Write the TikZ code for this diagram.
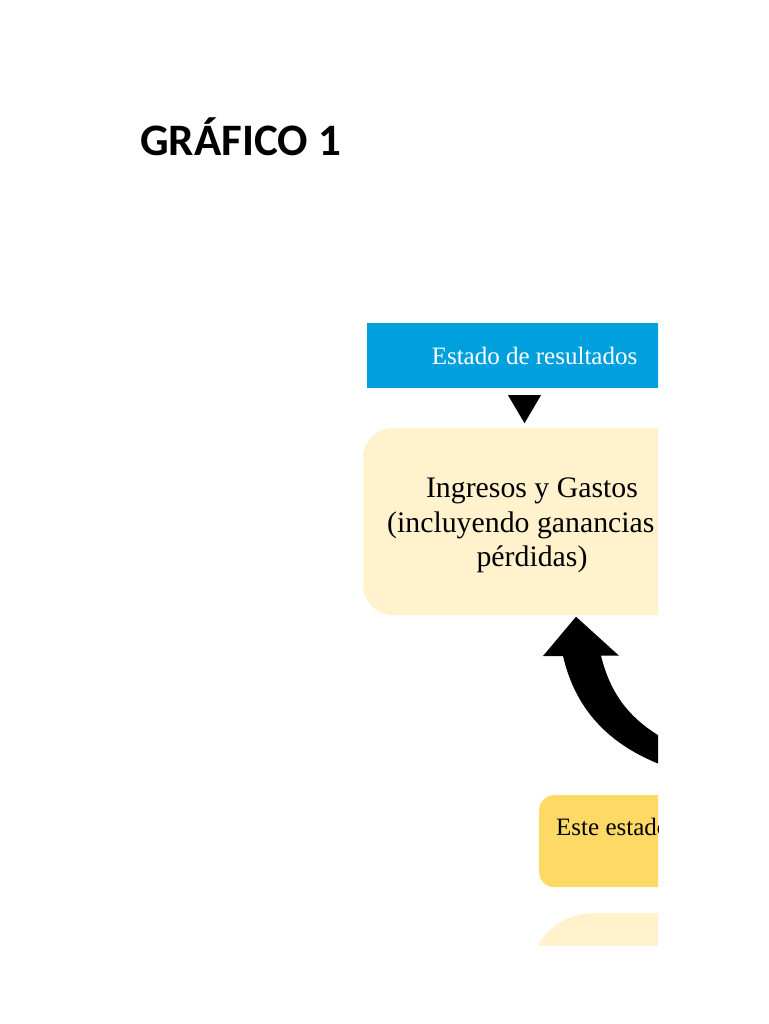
\documentclass[tikz,border=0pt]{standalone}
\usepackage{fontspec}
\setmainfont{Liberation Serif}
\newfontfamily\titlefont{Carlito}
\usetikzlibrary{calc}
\definecolor{hdrblue}{RGB}{0,160,223}
\definecolor{paleyellow}{RGB}{255,242,204}
\definecolor{goldyellow}{RGB}{255,217,102}
\tikzset{
  titlestyle/.style={anchor=base west, inner sep=0pt, font=\titlefont\bfseries\fontsize{45}{54}\selectfont},
  hdrbox/.style={fill=hdrblue, text=white, inner sep=0pt, font=\fontsize{25}{30}\selectfont},
  palebox/.style={fill=paleyellow, inner sep=0pt},
  goldbox/.style={fill=goldyellow, inner sep=0pt, rounded corners=15pt},
  bodytext/.style={inner sep=0pt, font=\fontsize{29.8}{34.5}\selectfont, align=center},
  smalltext/.style={inner sep=0pt, anchor=base west, font=\fontsize{25}{30}\selectfont},
}
\begin{document}
\begin{tikzpicture}[x=1pt,y=-1pt]
\useasboundingbox (0,0) rectangle (768,1024);
\node[titlestyle] (title) at (140,156) {GRÁFICO 1};
\begin{scope}
\clip (0,0) rectangle (658,945);
% header
\node[hdrbox, minimum width=335pt, minimum height=65pt] (hdr) at (534.5,355.5) {Estado de resultados};
% down triangle
\fill ($(hdr.south)+(-26.5,7)$) coordinate (tl) -- ++(33,0) coordinate (tr) -- ++(-16.5,28) coordinate (tip) -- cycle;
% main pale box
\node[palebox, rounded corners=30pt, minimum width=338pt, minimum height=187pt] (box1) at (532,521.5) {};
\node[bodytext] (box1text) at ($(box1.center)+(0,4)$) {Ingresos y Gastos\\(incluyendo ganancias y\\pérdidas)};
% gold box
\node[goldbox, anchor=north west, minimum width=320pt, minimum height=92pt] (box2) at (539,795) {};
\node[smalltext] (box2text) at (556,835) {Este estado};
% bottom pale box
\node[palebox, rounded corners=64pt, anchor=north west, minimum width=280pt, minimum height=190pt] (box3) at (529,913) {};
% curved block arrow
\coordinate (arrowtip) at ($(box1.south)+(44,1.5)$);
\fill (arrowtip) -- ++(43,39) coordinate (hr) -- ++(-18,0) coordinate (si)
  .. controls (610,692) and (628,720) .. (670,742)
  -- (670,768)
  .. controls (612,748) and (576,712) .. (563,656) coordinate (so)
  -- (543,656) coordinate (hl) -- cycle;
\end{scope}
\end{tikzpicture}
\end{document}
